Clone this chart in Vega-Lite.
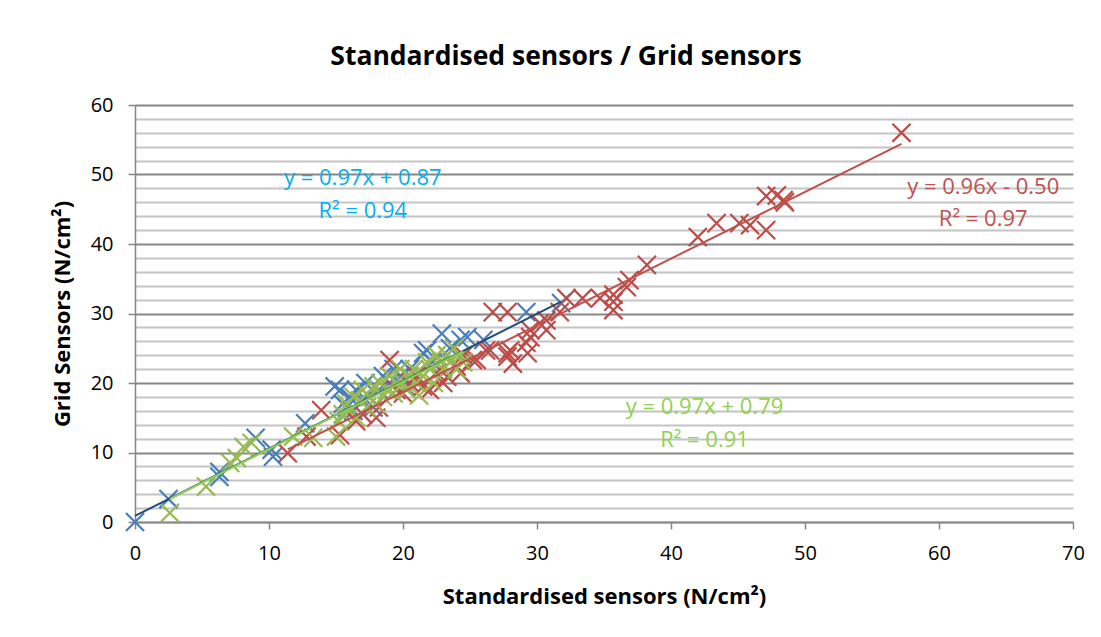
{
  "$schema": "https://vega.github.io/schema/vega-lite/v6.json",
  "width": 938,
  "height": 417,
  "autosize": {"type": "none"},
  "padding": {"left": 135, "top": 105, "right": 28, "bottom": 115},
  "background": "white",
  "title": {
    "text": "Standardised sensors / Grid sensors",
    "font": "Open Sans",
    "fontSize": 26.5,
    "fontWeight": "bold",
    "color": "#000000",
    "anchor": "middle",
    "dx": -38,
    "offset": 25
  },
  "config": {
    "view": {"stroke": null},
    "font": "Open Sans"
  },
  "datasets": {
    "points": [
      {"s": "blue", "x": 0, "y": 0}, {"s": "blue", "x": 2.5, "y": 3.3}, {"s": "blue", "x": 6.3, "y": 6.5}, {"s": "blue", "x": 6.3, "y": 7.2},
      {"s": "blue", "x": 9, "y": 12.1}, {"s": "blue", "x": 10.2, "y": 10.4}, {"s": "blue", "x": 10.3, "y": 9.4}, {"s": "blue", "x": 12.7, "y": 14.2},
      {"s": "blue", "x": 14.9, "y": 19.5}, {"s": "blue", "x": 15.3, "y": 19}, {"s": "blue", "x": 15.5, "y": 17}, {"s": "blue", "x": 15.8, "y": 16.5},
      {"s": "blue", "x": 16, "y": 18}, {"s": "blue", "x": 16.3, "y": 16}, {"s": "blue", "x": 16.5, "y": 19}, {"s": "blue", "x": 17, "y": 17.5},
      {"s": "blue", "x": 17.2, "y": 20}, {"s": "blue", "x": 17.5, "y": 18}, {"s": "blue", "x": 17.8, "y": 16.5}, {"s": "blue", "x": 18.2, "y": 19},
      {"s": "blue", "x": 18.5, "y": 21}, {"s": "blue", "x": 19, "y": 20}, {"s": "blue", "x": 19.3, "y": 22}, {"s": "blue", "x": 19.8, "y": 21},
      {"s": "blue", "x": 20.2, "y": 19.5}, {"s": "blue", "x": 20.5, "y": 22}, {"s": "blue", "x": 21, "y": 21}, {"s": "blue", "x": 21.5, "y": 24.3},
      {"s": "blue", "x": 21.8, "y": 24.7}, {"s": "blue", "x": 22.2, "y": 23}, {"s": "blue", "x": 22.9, "y": 27.1}, {"s": "blue", "x": 23.5, "y": 25},
      {"s": "blue", "x": 24.3, "y": 26.2}, {"s": "blue", "x": 24.8, "y": 26.6}, {"s": "blue", "x": 26, "y": 26.2}, {"s": "blue", "x": 29.2, "y": 30.2},
      {"s": "blue", "x": 31.8, "y": 31.5},
      {"s": "red", "x": 11.4, "y": 9.9}, {"s": "red", "x": 12.8, "y": 12.3}, {"s": "red", "x": 13.9, "y": 16.1}, {"s": "red", "x": 15.3, "y": 12.5},
      {"s": "red", "x": 16.5, "y": 14.5}, {"s": "red", "x": 17, "y": 15.5}, {"s": "red", "x": 18, "y": 15}, {"s": "red", "x": 18.2, "y": 16.5},
      {"s": "red", "x": 19, "y": 23.3}, {"s": "red", "x": 19.5, "y": 19}, {"s": "red", "x": 20, "y": 18.5}, {"s": "red", "x": 20.5, "y": 20},
      {"s": "red", "x": 21, "y": 21}, {"s": "red", "x": 21.5, "y": 19.5}, {"s": "red", "x": 22, "y": 19}, {"s": "red", "x": 22.5, "y": 21.5},
      {"s": "red", "x": 23, "y": 20}, {"s": "red", "x": 23.3, "y": 20.9}, {"s": "red", "x": 23.5, "y": 23}, {"s": "red", "x": 24, "y": 22.4},
      {"s": "red", "x": 24.3, "y": 21.4}, {"s": "red", "x": 24.5, "y": 24}, {"s": "red", "x": 25.2, "y": 23.3}, {"s": "red", "x": 25.5, "y": 23.3},
      {"s": "red", "x": 26.2, "y": 24.7}, {"s": "red", "x": 26.5, "y": 24.7}, {"s": "red", "x": 26.7, "y": 30.2}, {"s": "red", "x": 27.8, "y": 24.3},
      {"s": "red", "x": 27.8, "y": 23.8}, {"s": "red", "x": 27.8, "y": 30.2}, {"s": "red", "x": 28, "y": 24.7}, {"s": "red", "x": 28.2, "y": 22.8},
      {"s": "red", "x": 29.2, "y": 25.8}, {"s": "red", "x": 29.3, "y": 24.3}, {"s": "red", "x": 29.5, "y": 26.6}, {"s": "red", "x": 29.5, "y": 27.6},
      {"s": "red", "x": 30.2, "y": 28.6}, {"s": "red", "x": 30.7, "y": 27.6}, {"s": "red", "x": 30.7, "y": 29}, {"s": "red", "x": 31.7, "y": 30.2},
      {"s": "red", "x": 32.2, "y": 32.2}, {"s": "red", "x": 33.4, "y": 32.2}, {"s": "red", "x": 34.7, "y": 32.2}, {"s": "red", "x": 35.7, "y": 32.7},
      {"s": "red", "x": 35.7, "y": 31.7}, {"s": "red", "x": 35.7, "y": 30.5}, {"s": "red", "x": 36.7, "y": 33.8}, {"s": "red", "x": 36.9, "y": 34.8},
      {"s": "red", "x": 38.2, "y": 37}, {"s": "red", "x": 42, "y": 41}, {"s": "red", "x": 43.4, "y": 43}, {"s": "red", "x": 45.1, "y": 43},
      {"s": "red", "x": 45.9, "y": 42.7}, {"s": "red", "x": 47.1, "y": 42}, {"s": "red", "x": 47.1, "y": 46.9}, {"s": "red", "x": 47.9, "y": 47},
      {"s": "red", "x": 48.4, "y": 46.3}, {"s": "red", "x": 48.5, "y": 46}, {"s": "red", "x": 57.2, "y": 56},
      {"s": "green", "x": 2.6, "y": 1.3}, {"s": "green", "x": 5.3, "y": 5.1}, {"s": "green", "x": 7.1, "y": 8.5}, {"s": "green", "x": 7.6, "y": 9.2},
      {"s": "green", "x": 8.1, "y": 10.8}, {"s": "green", "x": 8.7, "y": 11.4}, {"s": "green", "x": 11.8, "y": 12.3}, {"s": "green", "x": 13.3, "y": 12.1},
      {"s": "green", "x": 15, "y": 12.3}, {"s": "green", "x": 15.2, "y": 14.5}, {"s": "green", "x": 15.5, "y": 15.5}, {"s": "green", "x": 15.8, "y": 17},
      {"s": "green", "x": 16, "y": 16}, {"s": "green", "x": 16.3, "y": 18}, {"s": "green", "x": 16.5, "y": 15}, {"s": "green", "x": 16.8, "y": 17.5},
      {"s": "green", "x": 17, "y": 19}, {"s": "green", "x": 17.3, "y": 16.5}, {"s": "green", "x": 17.5, "y": 18}, {"s": "green", "x": 17.8, "y": 19.5},
      {"s": "green", "x": 18, "y": 17}, {"s": "green", "x": 18.3, "y": 20}, {"s": "green", "x": 18.5, "y": 18}, {"s": "green", "x": 18.8, "y": 19},
      {"s": "green", "x": 19, "y": 21}, {"s": "green", "x": 19.3, "y": 18.5}, {"s": "green", "x": 19.5, "y": 20}, {"s": "green", "x": 19.8, "y": 22},
      {"s": "green", "x": 20, "y": 20}, {"s": "green", "x": 20.3, "y": 19}, {"s": "green", "x": 20.5, "y": 21}, {"s": "green", "x": 20.8, "y": 22},
      {"s": "green", "x": 21, "y": 20}, {"s": "green", "x": 21.2, "y": 18.2}, {"s": "green", "x": 21.5, "y": 21}, {"s": "green", "x": 21.8, "y": 23},
      {"s": "green", "x": 22, "y": 22}, {"s": "green", "x": 22.3, "y": 20}, {"s": "green", "x": 22.5, "y": 24}, {"s": "green", "x": 22.8, "y": 23},
      {"s": "green", "x": 23, "y": 22}, {"s": "green", "x": 23.3, "y": 24}, {"s": "green", "x": 23.5, "y": 23}, {"s": "green", "x": 23.8, "y": 25},
      {"s": "green", "x": 24, "y": 22}, {"s": "green", "x": 24.3, "y": 24}, {"s": "green", "x": 24.5, "y": 23}
    ],
    "trend": [
      {"s": "blue", "x": 0, "y": 0.87}, {"s": "blue", "x": 31.8, "y": 31.72},
      {"s": "red", "x": 11.4, "y": 10.44}, {"s": "red", "x": 57.2, "y": 54.41},
      {"s": "green", "x": 2.6, "y": 3.31}, {"s": "green", "x": 24.5, "y": 24.55}
    ],
    "labels": [
      {"s": "blue", "x": 17, "y": 49.5, "t": "y = 0.97x + 0.87"},
      {"s": "blue", "x": 17, "y": 44.7, "t": "R² = 0.94"},
      {"s": "red", "x": 63.3, "y": 48.2, "t": "y = 0.96x - 0.50"},
      {"s": "red", "x": 63.3, "y": 43.6, "t": "R² = 0.97"},
      {"s": "green", "x": 42.5, "y": 16.5, "t": "y = 0.97x + 0.79"},
      {"s": "green", "x": 42.5, "y": 11.8, "t": "R² = 0.91"}
    ]
  },
  "resolve": {"scale": {"color": "independent"}},
  "layer": [
    {
      "data": {"name": "points"},
      "mark": {"type": "point", "shape": "M-1,-1L1,1M-1,1L1,-1", "filled": false, "size": 330, "strokeWidth": 2.2, "opacity": 1},
      "encoding": {
        "x": {
          "field": "x", "type": "quantitative",
          "scale": {"domain": [0, 70], "nice": false, "zero": true},
          "axis": {
            "title": "Standardised sensors (N/cm²)",
            "values": [0, 10, 20, 30, 40, 50, 60, 70],
            "tickCount": 100,
            "format": "d",
            "grid": false,
            "labelOverlap": false,
            "labelFlush": false,
            "domainColor": "#868686", "domainWidth": 1.5,
            "tickColor": "#868686", "tickSize": 7, "tickWidth": 1.5,
            "labelFontSize": 20, "labelFontWeight": "normal", "labelColor": "#000000", "labelPadding": 14,
            "titleFontSize": 22, "titleFontWeight": "bold", "titleColor": "#000000", "titlePadding": 23
          }
        },
        "y": {
          "field": "y", "type": "quantitative",
          "scale": {"domain": [0, 60], "nice": false},
          "axis": {
            "title": "Grid Sensors (N/cm²)",
            "values": [0, 2, 4, 6, 8, 10, 12, 14, 16, 18, 20, 22, 24, 26, 28, 30, 32, 34, 36, 38, 40, 42, 44, 46, 48, 50, 52, 54, 56, 58, 60],
            "tickCount": 100,
            "format": "d",
            "labelExpr": "datum.value % 10 === 0 ? datum.label : ''",
            "labelOverlap": false,
            "labelFlush": false,
            "grid": true,
            "gridColor": {"condition": {"test": "datum.value % 10 === 0", "value": "#878787"}, "value": "#C4C4C4"},
            "gridWidth": 2,
            "domainColor": "#868686", "domainWidth": 1.5,
            "tickColor": {"condition": {"test": "datum.value % 10 === 0", "value": "#868686"}, "value": "transparent"},
            "tickSize": 7, "tickWidth": 1.5,
            "labelFontSize": 20, "labelColor": "#000000", "labelPadding": 15,
            "titleFontSize": 22, "titleFontWeight": "bold", "titleColor": "#000000", "titlePadding": 16
          }
        },
        "color": {
          "field": "s", "type": "nominal", "legend": null,
          "scale": {"domain": ["blue", "red", "green"], "range": ["#4A7EBB", "#BE4B48", "#98B954"]}
        }
      }
    },
    {
      "data": {"name": "trend"},
      "mark": {"type": "line", "strokeWidth": 2},
      "encoding": {
        "x": {"field": "x", "type": "quantitative"},
        "y": {"field": "y", "type": "quantitative"},
        "detail": {"field": "s"},
        "color": {
          "field": "s", "type": "nominal", "legend": null,
          "scale": {"domain": ["blue", "red", "green"], "range": ["#1F4E79", "#C0504D", "#92D050"]}
        }
      }
    },
    {
      "data": {"name": "labels"},
      "mark": {"type": "text", "fontSize": 22, "align": "center", "baseline": "middle"},
      "encoding": {
        "x": {"field": "x", "type": "quantitative"},
        "y": {"field": "y", "type": "quantitative"},
        "text": {"field": "t"},
        "color": {
          "field": "s", "type": "nominal", "legend": null,
          "scale": {"domain": ["blue", "red", "green"], "range": ["#00B0F0", "#C0504D", "#92D050"]}
        }
      }
    }
  ]
}
